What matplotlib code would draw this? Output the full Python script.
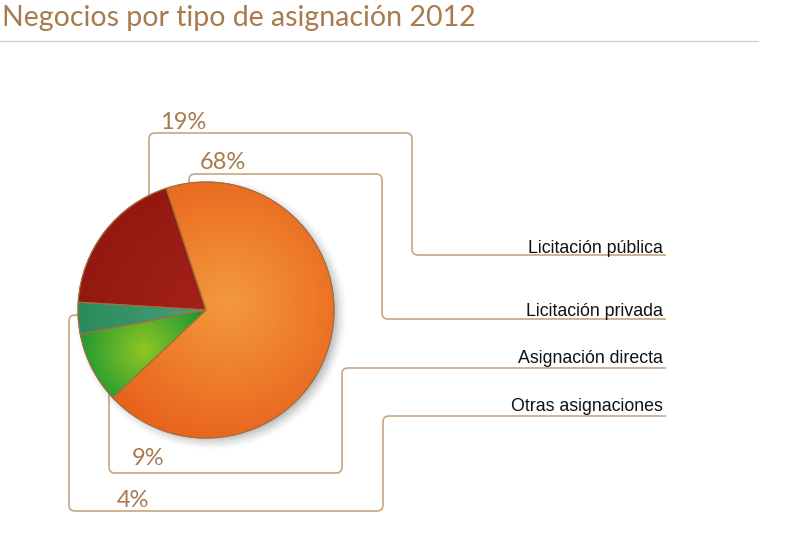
import numpy as np
import matplotlib.pyplot as plt
from matplotlib.path import Path
from matplotlib.patches import PathPatch, Wedge
from matplotlib.colors import to_rgb

title = "Negocios por tipo de asignación 2012"
labels = ["Licitación pública", "Licitación privada", "Asignación directa", "Otras asignaciones"]
values = [19, 68, 9, 4]
pct_text = ["19%", "68%", "9%", "4%"]

# gradient colours per slice: (centre, edge)
grad = [("#a3221b", "#93170f"), ("#f49a3d", "#e8611b"),
        ("#90c623", "#0d9134"), ("#48a077", "#2b8a5c")]
# highlight offset (px from pie centre) and falloff radius
hl = [((0, 0), 140), ((22, -8), 150), ((-62, 40), 75), ((0, 0), 130)]

W, H = 798, 541
cx, cy, R = 206, 310, 128
line_col = "#c6a584"
brown = "#a87b4f"

fig = plt.figure(figsize=(W / 100, H / 100), dpi=100)
ax = fig.add_axes([0, 0, 1, 1])


def rounded(pts, r=6):
    verts, codes = [pts[0]], [Path.MOVETO]
    for i in range(1, len(pts) - 1):
        p0, p1, p2 = map(np.array, (pts[i - 1], pts[i], pts[i + 1]))
        a = p1 + (p0 - p1) / np.linalg.norm(p0 - p1) * r
        b = p1 + (p2 - p1) / np.linalg.norm(p2 - p1) * r
        verts += [tuple(a), tuple(p1), tuple(b)]
        codes += [Path.LINETO, Path.CURVE3, Path.CURVE3]
    verts.append(pts[-1])
    codes.append(Path.LINETO)
    return Path(verts, codes)


# leader lines (y down, pixel coords)
leaders = [
    [(149, 200), (149, 133), (412, 133), (412, 255), (666, 255)],
    [(189, 190), (189, 174), (382, 174), (382, 319), (666, 319)],
    [(109, 380), (109, 473), (342, 473), (342, 368), (666, 368)],
    [(80, 315), (69, 315), (69, 511), (383, 511), (383, 416), (666, 416)],
]
for pts in leaders:
    ax.add_patch(PathPatch(rounded(pts), fill=False, edgecolor=line_col, lw=1.2, zorder=1))

# shadow
yy, xx = np.mgrid[cy - R - 30:cy + R + 30, cx - R - 30:cx + R + 30] + 0.5
d = np.hypot(xx - (cx + 5), yy - (cy + 4))
a = 0.5 * np.clip((R + 9 - d) / 16, 0, 1) ** 1.6
sh = np.zeros(d.shape + (4,))
sh[..., :3] = 0.35
sh[..., 3] = a
ax.imshow(sh, extent=(cx - R - 30, cx + R + 30, cy + R + 30, cy - R - 30),
          origin="upper", zorder=2, interpolation="bilinear")

wedges, _ = ax.pie(values, center=(cx, cy), radius=R, startangle=183.5, counterclock=True,
                   colors=[g[1] for g in grad],
                   wedgeprops=dict(edgecolor="#a0703f", linewidth=0.8, zorder=3))
ys, xs = np.mgrid[cy - R:cy + R, cx - R:cx + R] + 0.5
for w, (c0, c1), ((ox, oy), fr) in zip(wedges, grad, hl):
    w.set_zorder(3)
    t = np.clip(np.hypot(xs - (cx + ox), ys - (cy + oy)) / fr, 0, 1)[..., None]
    img = np.array(to_rgb(c0)) * (1 - t) + np.array(to_rgb(c1)) * t
    im = ax.imshow(img, extent=(cx - R, cx + R, cy + R, cy - R), origin="upper",
                   zorder=3.5, interpolation="bilinear")
    im.set_clip_path(w)
    ax.add_patch(Wedge(w.center, w.r, w.theta1, w.theta2, fill=False,
                       edgecolor="#a0703f", lw=0.8, zorder=4))

# labels
label_y = [253, 316, 363, 411]
for lab, y in zip(labels, label_y):
    ax.text(663, y, lab, ha="right", va="baseline", fontsize=12.8,
            family="Liberation Sans", color="#111111", zorder=5)

pct_pos = [(160, 129), (200, 169), (132, 465), (117, 507)]
for t, (x, y) in zip(pct_text, pct_pos):
    ax.text(x, y, t, ha="left", va="baseline", fontsize=17, family="Lato",
            weight="normal", color=brown, zorder=5)

ax.text(2, 26, title, ha="left", va="baseline", fontsize=20.5, family="Lato",
        weight="normal", color=brown)
ax.plot([0, 758], [41, 41], color="#d4d4d4", lw=1)

ax.set_xlim(0, W)
ax.set_ylim(H, 0)
ax.set_aspect("auto")
ax.axis("off")
fig.savefig("out.png", dpi=100)
